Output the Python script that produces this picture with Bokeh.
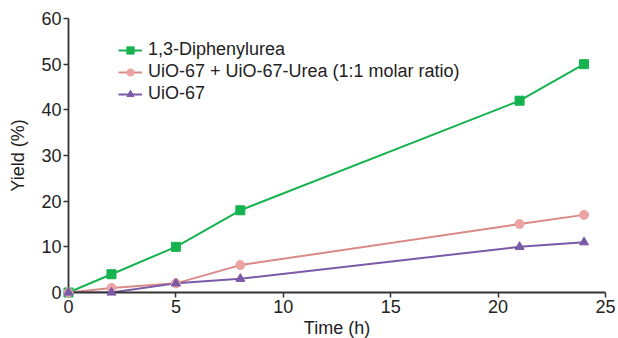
from bokeh.plotting import figure
from bokeh.models import Range1d, Legend, LegendItem, FixedTicker
from bokeh.embed import file_html
from bokeh.resources import INLINE

time_h = [0, 2, 5, 8, 21, 24]
diphenylurea = [0, 4, 10, 18, 42, 50]
mix = [0, 1, 2, 6, 15, 17]
uio67 = [0, 0, 2, 3, 10, 11]

x_ticks = [0, 5, 10, 15, 20, 25]
y_ticks = [0, 10, 20, 30, 40, 50, 60]

FONT = "Liberation Sans"

p = figure(width=618, height=338, output_backend="svg", toolbar_location=None,
           x_range=Range1d(0, 25), y_range=Range1d(0, 60),
           min_border_left=68, min_border_right=13, min_border_top=18, min_border_bottom=46)
p.frame_width = 537
p.frame_height = 274
p.outline_line_color = None
p.grid.visible = False
p.background_fill_color = "white"

for ax in (p.xaxis[0], p.yaxis[0]):
    ax.axis_line_color = "#333333"
    ax.axis_line_width = 1.8
    ax.major_tick_line_color = "#333333"
    ax.major_tick_line_width = 1.5
    ax.major_tick_out = 5
    ax.major_tick_in = 0
    ax.minor_tick_line_color = None
    ax.major_label_text_font = FONT
    ax.major_label_text_font_size = "18px"
    ax.major_label_text_color = "#222222"
    ax.axis_label_text_font = FONT
    ax.axis_label_text_font_size = "18px"
    ax.axis_label_text_font_style = "normal"
    ax.axis_label_text_color = "#222222"

p.xaxis.ticker = FixedTicker(ticks=x_ticks)
p.yaxis.ticker = FixedTicker(ticks=y_ticks)
p.xaxis.axis_label = "Time (h)"
p.yaxis.axis_label = "Yield (%)"
p.xaxis.major_label_standoff = 2
p.xaxis.axis_label_standoff = 2
p.yaxis.major_label_standoff = 2
p.yaxis.axis_label_standoff = 10

c_green = "#14b34f"
c_pink_l = "#d98a88"
c_pink_m = "#eba3a3"
c_purple = "#7a5aa8"

l1 = p.line(time_h, diphenylurea, line_color=c_green, line_width=2)
m1 = p.scatter(time_h, diphenylurea, marker="square", size=9, fill_color=c_green, line_color=c_green, level="overlay")
l2 = p.line(time_h, mix, line_color=c_pink_l, line_width=2)
m2 = p.scatter(time_h, mix, marker="circle", size=9, fill_color=c_pink_m, line_color=c_pink_m, level="overlay")
l3 = p.line(time_h, uio67, line_color=c_purple, line_width=2)
m3 = p.scatter(time_h, uio67, marker="triangle", size=9, fill_color=c_purple, line_color=c_purple, level="overlay")

legend = Legend(items=[
    LegendItem(label="1,3-Diphenylurea", renderers=[l1, m1]),
    LegendItem(label="UiO-67 + UiO-67-Urea (1:1 molar ratio)", renderers=[l2, m2]),
    LegendItem(label="UiO-67", renderers=[l3, m3]),
], location=(50, 188))
legend.border_line_color = None
legend.background_fill_alpha = 0
legend.label_text_font = FONT
legend.label_text_font_size = "18px"
legend.label_text_color = "#222222"
legend.glyph_width = 24
legend.glyph_height = 18
legend.label_standoff = 6
legend.spacing = 1
legend.padding = 0
legend.margin = 0
legend.label_height = 18
p.add_layout(legend, "center")

open("out.html", "w").write(file_html(p, INLINE))
